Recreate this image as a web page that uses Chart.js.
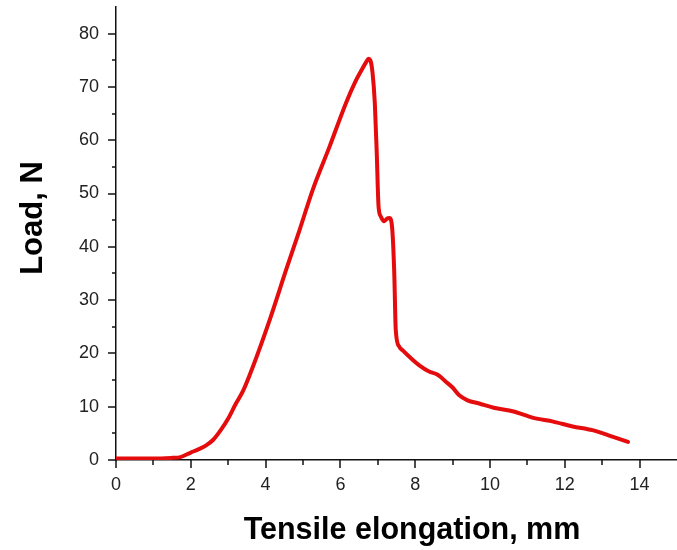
<!DOCTYPE html>
<html>
<head>
<meta charset="utf-8">
<script src="https://cdn.jsdelivr.net/npm/chart.js@4/dist/chart.umd.min.js"></script>
<style>
html,body{margin:0;padding:0;background:#fff;}
#wrap{width:677px;height:550px;position:relative;}
</style>
</head>
<body>
<div id="wrap"><canvas id="c" width="677" height="550"></canvas></div>
<script>
// Data
const elongation = [0, 0.5, 1.0, 1.5, 1.7, 2.0, 2.2, 2.4, 2.6, 2.8, 3.0, 3.2, 3.4, 3.66, 4.11, 4.55, 4.91, 5.26, 5.71, 6.15, 6.4, 6.6, 6.7, 6.75, 6.8, 6.86, 6.92, 6.97, 7.02, 7.08, 7.17, 7.25, 7.31, 7.38, 7.44, 7.48, 7.57, 7.66, 7.93, 8.1, 8.37, 8.6, 8.82, 9.0, 9.17, 9.4, 9.71, 10.1, 10.63, 11.16, 11.69, 12.21, 12.74, 13.27, 13.69];
const load = [0.3, 0.3, 0.3, 0.4, 0.5, 1.4, 2.0, 2.7, 3.8, 5.6, 7.8, 10.5, 13.0, 17.5, 26.3, 35.7, 43.2, 50.7, 58.8, 67.0, 71.0, 73.6, 74.8, 75.3, 75.0, 72.6, 67.0, 58.0, 47.6, 45.7, 44.8, 45.3, 45.4, 43.8, 35.1, 24.4, 21.3, 20.6, 18.8, 17.8, 16.6, 16.0, 14.7, 13.6, 12.2, 11.2, 10.6, 9.8, 9.1, 7.9, 7.2, 6.3, 5.6, 4.4, 3.4];
const xTickLabels = ['0', '2', '4', '6', '8', '10', '12', '14'];
const yTickLabels = ['0', '10', '20', '30', '40', '50', '60', '70', '80'];
const xTitle = 'Tensile elongation, mm';
const yTitle = 'Load, N';

const points = elongation.map((x, i) => ({x: x, y: load[i]}));
const FONT = '"Liberation Sans", Arial, sans-serif';
const AXIS_COLOR = '#111';

const decorPlugin = {
  id: 'decor',
  afterDraw(chart) {
    const ctx = chart.ctx;
    const xs = chart.scales.x, ys = chart.scales.y;
    const area = chart.chartArea;
    ctx.save();
    ctx.strokeStyle = AXIS_COLOR;
    ctx.lineWidth = 1.5;
    // x ticks (major every 2, minor every 1)
    for (let v = 0; v <= 14; v += 1) {
      const px = Math.round(xs.getPixelForValue(v));
      const len = (v % 2 === 0) ? 8 : 5;
      ctx.beginPath();
      ctx.moveTo(px, area.bottom);
      ctx.lineTo(px, area.bottom + len);
      ctx.stroke();
    }
    // y ticks (major every 10, minor every 5)
    for (let v = 0; v <= 80; v += 5) {
      const py = Math.round(ys.getPixelForValue(v));
      const len = (v % 10 === 0) ? 8 : 4;
      ctx.beginPath();
      ctx.moveTo(area.left, py);
      ctx.lineTo(area.left - len, py);
      ctx.stroke();
    }
    // titles
    ctx.fillStyle = '#000';
    ctx.textAlign = 'center';
    ctx.textBaseline = 'middle';
    ctx.font = 'bold 30.5px ' + FONT;
    ctx.fillText(xTitle, 412, 531);
    ctx.font = 'bold 31px ' + FONT;
    ctx.translate(33, 218);
    ctx.rotate(-Math.PI / 2);
    ctx.fillText(yTitle, 0, 0);
    ctx.restore();
  }
};

new Chart(document.getElementById('c'), {
  type: 'scatter',
  data: {
    datasets: [{
      data: points,
      showLine: true,
      borderColor: 'rgb(228,12,12)',
      backgroundColor: 'rgb(228,12,12)',
      borderWidth: 4,
      pointRadius: 0,
      cubicInterpolationMode: 'monotone',
      borderCapStyle: 'round',
      borderJoinStyle: 'round'
    }]
  },
  options: {
    responsive: false,
    animation: false,
    layout: {padding: {left: 0, right: 0, top: 7, bottom: 0}},
    plugins: {legend: {display: false}, tooltip: {enabled: false}},
    scales: {
      x: {
        type: 'linear',
        min: 0, max: 15,
        afterFit(s) { s.height = 90; s.paddingLeft = 0; s.paddingRight = 0; },
        grid: {display: false, drawTicks: false},
        border: {display: true, color: AXIS_COLOR, width: 1.5},
        ticks: {
          stepSize: 2,
          includeBounds: false,
          padding: 14,
          color: '#222',
          font: {family: FONT, size: 18},
          maxRotation: 0,
          callback: (v) => xTickLabels.includes(String(v)) ? String(v) : ''
        }
      },
      y: {
        type: 'linear',
        min: 0, max: 85,
        afterFit(s) { s.width = 116; s.paddingTop = 0; s.paddingBottom = 0; },
        grid: {display: false, drawTicks: false},
        border: {display: true, color: AXIS_COLOR, width: 1.5},
        ticks: {
          stepSize: 10,
          includeBounds: false,
          padding: 17,
          color: '#222',
          font: {family: FONT, size: 18},
          callback: (v) => yTickLabels.includes(String(v)) ? String(v) : ''
        }
      }
    }
  },
  plugins: [decorPlugin]
});
</script>
</body>
</html>
